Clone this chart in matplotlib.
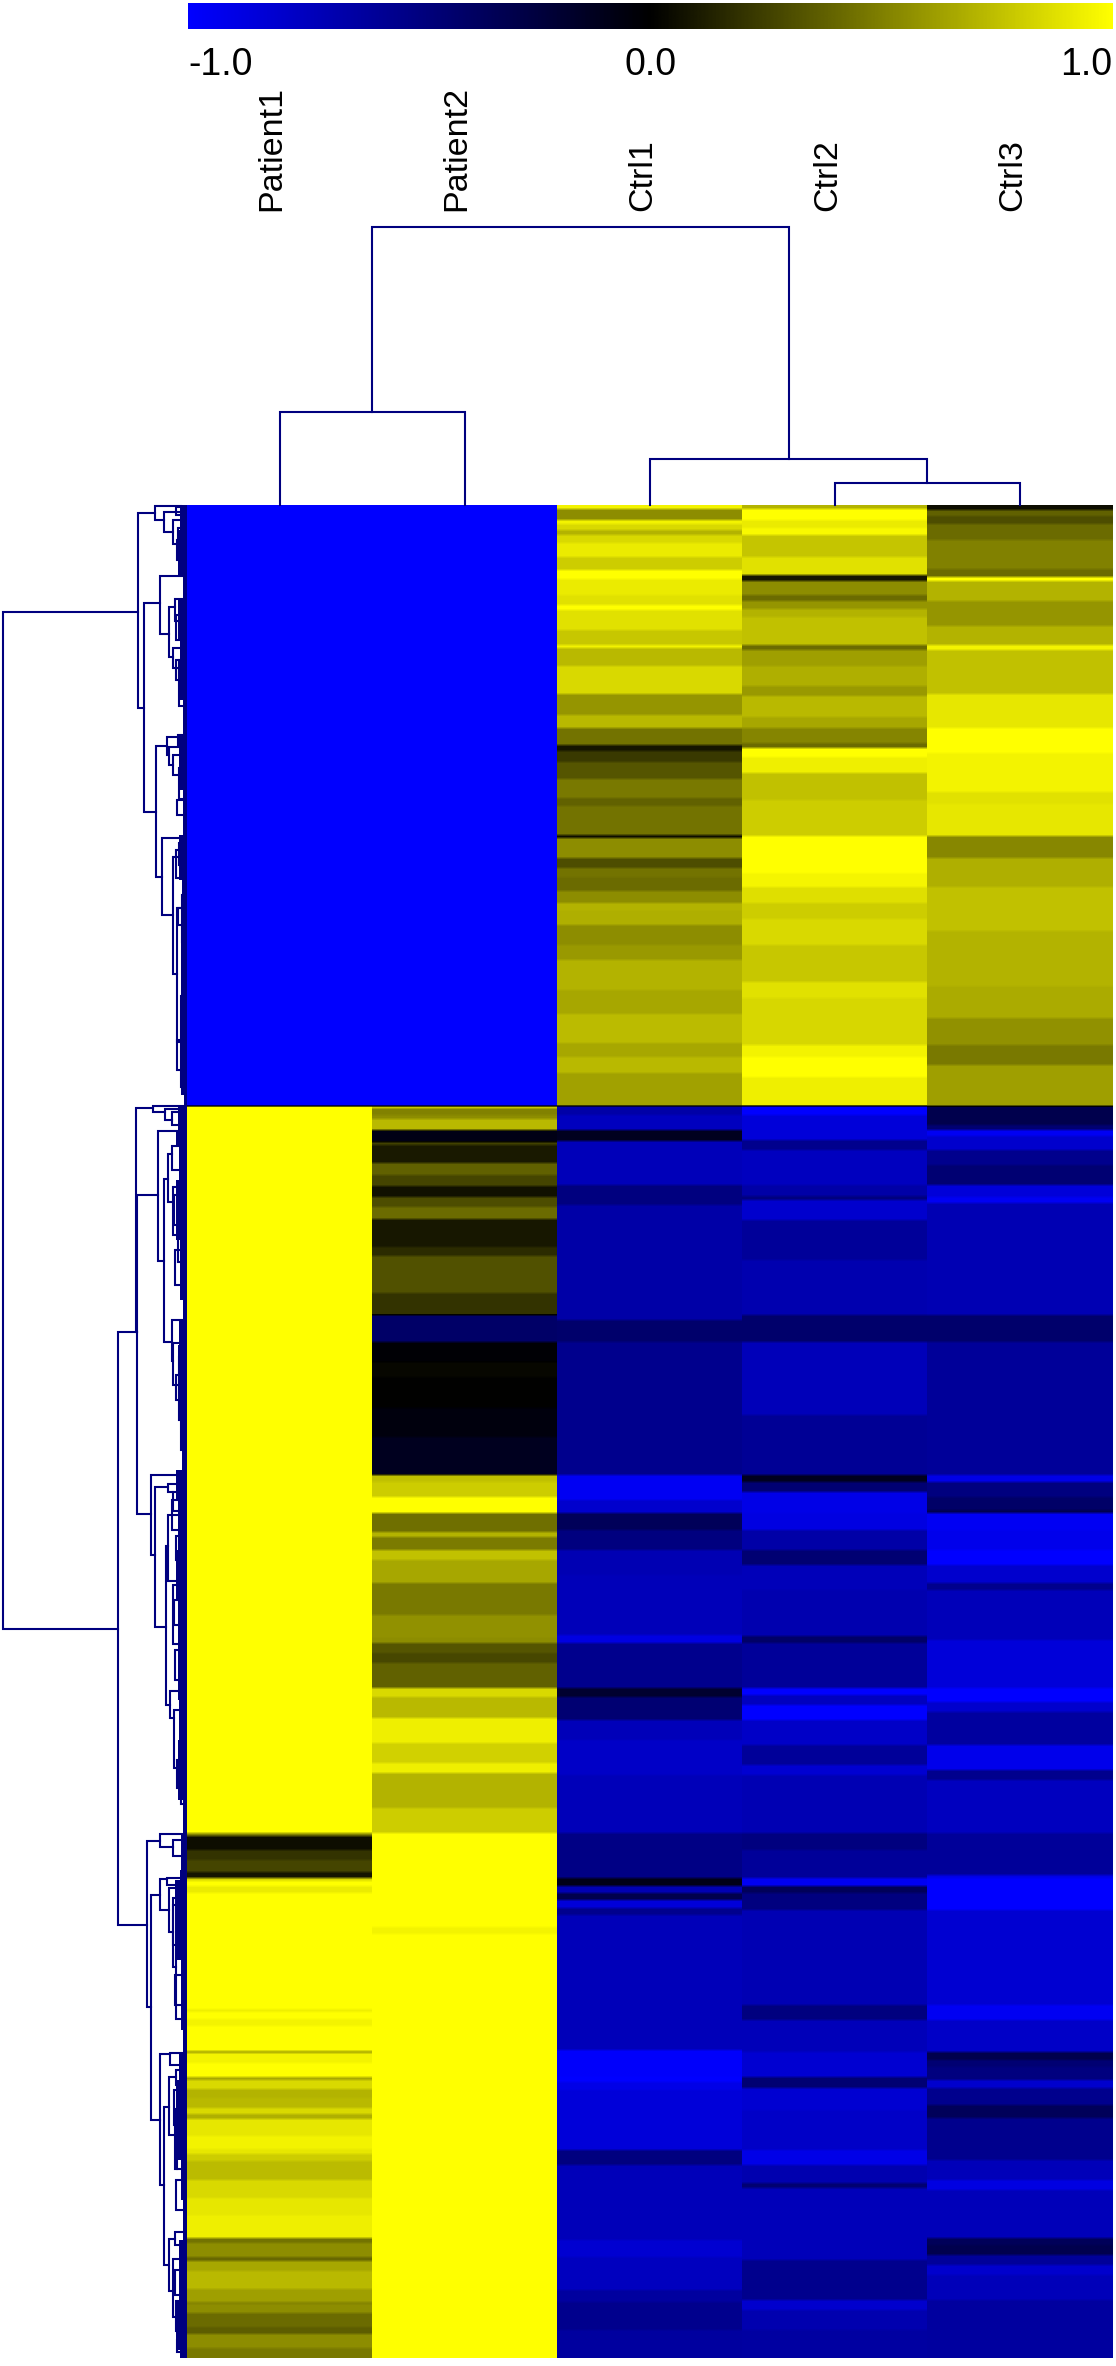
import numpy as np
import matplotlib
matplotlib.use('Agg')
import matplotlib.pyplot as plt
from matplotlib.colors import LinearSegmentedColormap

# SAMPLES AND COLOUR SCALE
samples = ['Patient1', 'Patient2', 'Ctrl1', 'Ctrl2', 'Ctrl3']
scale_ticks = ['-1.0', '0.0', '1.0']
scale_colors = ['#0000ff', '#000000', '#ffff00']

# ROWS OF THE HEATMAP, numbered as they sit on the page
first_row = 505
last_row = 2358

# BANDS OF EACH COLUMN: (row where the band ends, value)
patient1_bands = [
    (1106, -1), (1833, 1), (1836, 0.5), (1850, 0.05), (1860, 0.2), (1872, 0.27), (1878, 0.08),
    (1881, 0.85), (1886, 1), (1893, 0.92), (2009, 1), (2012, 0.93), (2019, 1), (2026, 0.95),
    (2051, 1), (2053, 0.6), (2063, 0.95), (2077, 1), (2080, 0.65), (2089, 0.85), (2098, 0.7),
    (2108, 0.72), (2114, 0.85), (2119, 0.68), (2136, 0.9), (2149, 0.95), (2154, 0.9), (2161, 0.8),
    (2180, 0.73), (2198, 0.85), (2215, 0.9), (2238, 0.93), (2243, 0.45), (2257, 0.55), (2261, 0.4),
    (2271, 0.65), (2289, 0.72), (2302, 0.62), (2304, 0.5), (2313, 0.55), (2327, 0.42), (2334, 0.36),
    (2348, 0.55), (2358, 0.47),
]
patient2_bands = [
    (1106, -1), (1108, 0.9), (1115, 0.5), (1119, 0.55), (1130, 0.72), (1142, -0.08), (1145, 0.25),
    (1163, 0.1), (1175, 0.38), (1186, 0.27), (1197, 0.07), (1207, 0.3), (1219, 0.42), (1247, 0.09),
    (1256, 0.17), (1293, 0.32), (1315, 0.2), (1342, -0.4), (1362, -0.02), (1377, 0.03), (1408, 0.0),
    (1437, -0.05), (1475, -0.12), (1482, 0.75), (1497, 0.8), (1513, 1), (1532, 0.43), (1537, 0.7),
    (1550, 0.48), (1560, 0.75), (1583, 0.65), (1615, 0.47), (1637, 0.57), (1643, 0.55), (1653, 0.33),
    (1663, 0.28), (1688, 0.38), (1697, 0.85), (1718, 0.72), (1743, 0.93), (1763, 0.82), (1773, 0.93),
    (1787, 0.7), (1808, 0.7), (1833, 0.8), (1927, 1), (1934, 0.95), (2358, 1),
]
ctrl1_bands = [
    (509, 0.95), (520, 0.55), (524, 0.95), (530, 0.85), (535, 0.7), (543, 0.85), (557, 0.92),
    (570, 0.8), (579, 1), (595, 0.92), (605, 0.88), (610, 1), (630, 0.88), (645, 0.78), (648, 0.95),
    (666, 0.72), (694, 0.85), (715, 0.58), (728, 0.72), (745, 0.45), (751, 0.08), (762, 0.22),
    (779, 0.33), (798, 0.47), (806, 0.38), (835, 0.45), (838, 0.05), (858, 0.55), (868, 0.3),
    (877, 0.45), (891, 0.42), (903, 0.55), (911, 0.7), (925, 0.68), (945, 0.55), (960, 0.6),
    (990, 0.7), (1014, 0.65), (1043, 0.73), (1057, 0.65), (1073, 0.72), (1106, 0.63),
    (1115, -0.65), (1130, -0.75), (1141, -0.12), (1185, -0.72), (1205, -0.5), (1320, -0.65),
    (1342, -0.42), (1475, -0.55), (1500, -0.95), (1513, -0.8), (1530, -0.35), (1550, -0.5),
    (1575, -0.7), (1635, -0.72), (1643, -0.88), (1688, -0.55), (1697, -0.18), (1720, -0.45),
    (1740, -0.72), (1775, -0.78), (1833, -0.72), (1878, -0.52), (1886, -0.1), (1893, -0.7),
    (1900, -0.3), (1908, -0.85), (1915, -0.55), (2050, -0.72), (2077, -0.98), (2082, -1),
    (2090, -0.9), (2150, -0.85), (2165, -0.5), (2240, -0.72), (2257, -0.82), (2290, -0.75),
    (2302, -0.62), (2330, -0.55), (2358, -0.62),
]
ctrl2_bands = [
    (509, 0.7), (520, 1), (528, 0.92), (535, 0.97), (557, 0.77), (575, 0.88), (581, 0.08),
    (595, 0.55), (601, 0.42), (609, 0.58), (617, 0.7), (645, 0.75), (650, 0.42), (666, 0.62),
    (686, 0.68), (696, 0.6), (717, 0.72), (728, 0.65), (743, 0.52), (748, 0.42), (757, 1),
    (773, 0.93), (800, 0.75), (836, 0.8), (873, 1), (887, 0.96), (903, 0.87), (919, 0.8),
    (945, 0.85), (982, 0.78), (998, 0.88), (1045, 0.84), (1057, 0.95), (1077, 1), (1106, 0.93),
    (1115, -1), (1140, -0.85), (1150, -0.55), (1185, -0.75), (1196, -0.65), (1200, -0.5),
    (1220, -0.8), (1260, -0.6), (1315, -0.68), (1342, -0.42), (1415, -0.72), (1475, -0.58),
    (1482, -0.12), (1492, -0.45), (1513, -0.9), (1530, -0.88), (1550, -0.65), (1565, -0.45),
    (1590, -0.72), (1636, -0.68), (1643, -0.4), (1688, -0.6), (1695, -1), (1705, -0.75),
    (1720, -1), (1745, -0.78), (1765, -0.6), (1775, -0.82), (1833, -0.7), (1850, -0.5),
    (1878, -0.6), (1886, -0.95), (1893, -0.35), (1910, -0.5), (2005, -0.7), (2020, -0.5),
    (2052, -0.72), (2077, -0.82), (2088, -0.45), (2110, -0.82), (2150, -0.78), (2165, -0.9),
    (2183, -0.68), (2188, -0.45), (2260, -0.72), (2300, -0.55), (2310, -0.8), (2330, -0.68),
    (2358, -0.63),
]
ctrl3_bands = [
    (510, 0.05), (516, 0.38), (524, 0.3), (540, 0.42), (569, 0.5), (577, 0.42), (581, 1),
    (601, 0.7), (626, 0.58), (645, 0.7), (650, 0.95), (694, 0.75), (728, 0.9), (753, 1),
    (792, 0.95), (804, 0.88), (836, 0.9), (858, 0.53), (887, 0.68), (931, 0.75), (986, 0.7),
    (1018, 0.67), (1045, 0.57), (1065, 0.47), (1106, 0.62),
    (1125, -0.3), (1130, -0.45), (1136, -0.95), (1150, -0.8), (1165, -0.55), (1185, -0.45),
    (1197, -0.85), (1203, -0.95), (1315, -0.7), (1342, -0.42), (1475, -0.6), (1482, -0.9),
    (1497, -0.5), (1510, -0.4), (1513, -0.3), (1530, -0.95), (1550, -0.92), (1565, -1),
    (1583, -0.8), (1590, -0.55), (1640, -0.72), (1688, -0.85), (1702, -1), (1712, -0.8),
    (1745, -0.62), (1770, -0.92), (1780, -0.55), (1833, -0.75), (1875, -0.6), (1878, -0.9),
    (1910, -1), (2005, -0.82), (2020, -0.95), (2052, -0.78), (2060, -0.3), (2067, -0.45),
    (2080, -0.5), (2088, -0.8), (2105, -0.55), (2118, -0.35), (2160, -0.55), (2180, -0.72),
    (2190, -0.88), (2238, -0.72), (2245, -0.35), (2255, -0.3), (2265, -0.6), (2275, -0.8),
    (2300, -0.72), (2358, -0.62),
]

# SAMPLE TREE: (merge height, left leaf position, right leaf position, left height, right height)
top_merges = [
    (1.0, 1.0, 3.25, 0.335, 0.165),
    (0.335, 0.5, 1.5, 0, 0),
    (0.165, 2.5, 4.0, 0, 0.08),
    (0.08, 3.5, 4.5, 0, 0),
]

# ROW TREE: (merge position, upper row, lower row, upper child position, lower child position)
left_merges = [
    (3, 612, 1629, 138, 118),
    (138, 513, 708, 155, 144), (155, 506, 520, 181, 164), (164, 512, 532, 181, 173),
    (173, 520, 544, 180, 178), (178, 528, 558, 182, 182), (182, 548, 571, 185, 185),
    (144, 603, 812, 160, 156), (160, 576, 634, 183, 169), (169, 607, 657, 175, 173),
    (175, 599, 621, 183, 181), (173, 648, 668, 183, 179), (179, 660, 706, 185, 183),
    (156, 746, 877, 167, 162), (167, 737, 755, 180, 169), (169, 747, 765, 180, 173),
    (173, 755, 775, 180, 179), (179, 768, 799, 185, 183), (162, 838, 915, 183, 173),
    (173, 857, 974, 179, 177), (179, 843, 865, 185, 182), (177, 908, 1042, 182, 181),
    (182, 895, 942, 185, 185), (181, 996, 1087, 185, 185),
    (118, 1332, 1925, 137, 147), (136, 1108, 1332, 153, 137), (137, 1195, 1514, 158, 151),
    (153, 1106, 1112, 183, 165), (165, 1109, 1120, 183, 172), (172, 1112, 1125, 183, 178),
    (158, 1131, 1261, 183, 164), (164, 1179, 1342, 168, 172), (168, 1154, 1202, 172, 173),
    (172, 1146, 1170, 183, 183), (173, 1187, 1235, 180, 178), (178, 1200, 1262, 184, 184),
    (172, 1320, 1361, 183, 173), (173, 1343, 1385, 184, 179), (179, 1357, 1420, 184, 181),
    (181, 1420, 1450, 185, 185), (151, 1475, 1555, 183, 155), (155, 1487, 1627, 168, 166),
    (168, 1484, 1492, 183, 173), (173, 1492, 1511, 183, 183), (166, 1546, 1705, 168, 170),
    (168, 1515, 1581, 183, 176), (176, 1536, 1560, 183, 183), (173, 1585, 1644, 183, 180),
    (170, 1691, 1718, 183, 174), (174, 1710, 1768, 183, 177), (177, 1760, 1788, 183, 181),
    (181, 1776, 1804, 185, 185), (147, 1841, 2007, 160, 151), (160, 1834, 1847, 183, 173),
    (173, 1840, 1856, 183, 183), (151, 1895, 2120, 160, 160), (160, 1879, 1910, 167, 169),
    (167, 1878, 1885, 183, 183), (169, 1888, 1932, 183, 173), (173, 1898, 1967, 183, 176),
    (176, 1950, 2019, 183, 183), (160, 2054, 2185, 170, 164), (170, 2053, 2065, 183, 183),
    (164, 2107, 2265, 169, 169), (169, 2077, 2135, 176, 175), (176, 2070, 2085, 183, 183),
    (175, 2109, 2169, 183, 177), (177, 2153, 2169, 183, 183), (169, 2239, 2291, 175, 173),
    (175, 2232, 2245, 183, 183), (173, 2259, 2317, 183, 176), (176, 2301, 2331, 183, 179),
    (179, 2323, 2343, 185, 185),
    # small boxes in the busy parts of the tree
    (176, 507, 515, 183, 180), (177, 540, 560, 184, 181), (176, 615, 640, 184, 180),
    (176, 660, 680, 184, 181), (178, 735, 745, 184, 181), (177, 800, 815, 184, 182),
    (176, 850, 878, 184, 181), (178, 908, 925, 182, 182), (177, 1040, 1070, 184, 182),
    (174, 1195, 1225, 180, 180), (175, 1250, 1285, 181, 181), (176, 1375, 1400, 181, 181),
    (172, 1500, 1530, 178, 178), (174, 1600, 1625, 180, 180), (175, 1650, 1680, 180, 180),
    (173, 1905, 1945, 178, 178), (175, 1975, 2005, 181, 181), (174, 2090, 2125, 180, 180),
    (176, 2180, 2210, 182, 182), (175, 2270, 2295, 180, 180), (177, 2340, 2352, 182, 182),
]

# TIGHT LEAF BRANCHES NEXT TO THE HEATMAP: (row where the clump ends, position of its left edge)
leaf_clumps = [
    (530, 180), (575, 178), (600, 183), (640, 178), (700, 180), (735, 183), (790, 179), (835, 183),
    (880, 179), (920, 182), (1000, 181), (1040, 182), (1095, 181), (1105, 184), (1130, 178),
    (1145, 176), (1180, 179), (1240, 176), (1300, 180), (1320, 183), (1345, 179), (1420, 178),
    (1470, 182), (1500, 176), (1550, 178), (1600, 176), (1700, 178), (1740, 179), (1800, 178),
    (1835, 183), (1870, 181), (1880, 180), (1960, 175), (2030, 181), (2054, 183), (2080, 179),
    (2160, 176), (2200, 181), (2240, 183), (2300, 179), (2350, 176), (2358, 180),
]

# PAGE LAYOUT IN PIXELS
W, H = 1116, 2366
HEAT_LEFT, HEAT_RIGHT = 187, 1112.5
NAVY = '#00007f'


def page_axes(x0, y0, x1, y1):
    ax = fig.add_axes([x0 / W, 1 - y1 / H, (x1 - x0) / W, (y1 - y0) / H])
    ax.axis('off')
    return ax


plt.rcParams['font.family'] = ['Liberation Sans', 'DejaVu Sans']
fig = plt.figure(figsize=(W / 100, H / 100), dpi=100)
cmap = LinearSegmentedColormap.from_list('byy', scale_colors)

# HEATMAP
all_bands = [patient1_bands, patient2_bands, ctrl1_bands, ctrl2_bands, ctrl3_bands]
matrix = np.zeros((last_row - first_row, len(samples)))
for c, bands in enumerate(all_bands):
    start = first_row
    for end, value in bands:
        matrix[start - first_row:end - first_row, c] = value
        start = end

# the scan of the original is soft, so soften the band edges along the rows a little
for c in range(matrix.shape[1]):
    padded = np.pad(matrix[:, c], 1, mode='edge')
    matrix[:, c] = np.convolve(padded, np.ones(3) / 3, mode='valid')

ax_heat = page_axes(HEAT_LEFT, first_row, HEAT_RIGHT, last_row)
ax_heat.imshow(matrix, cmap=cmap, vmin=-1, vmax=1, aspect='auto', interpolation='nearest',
               extent=[0, len(samples), last_row, first_row])

# COLOUR KEY
ax_key = page_axes(188, 2.5, HEAT_RIGHT, 29.5)
ax_key.imshow(np.linspace(-1, 1, 512)[None, :], cmap=cmap, aspect='auto')

ax_ticks = page_axes(188, 30, HEAT_RIGHT, 90)
ax_ticks.set_xlim(-1, 1)
ax_ticks.set_ylim(0, 1)
aligns = ['left', 'center', 'right']
for tick, pos, ha in zip(scale_ticks, [-1, 0, 1], aligns):
    ax_ticks.text(pos, 0.42, tick, ha=ha, va='center', fontsize=27, color='black')

# SAMPLE TREE AND LABELS
ax_top = page_axes(HEAT_LEFT, 227, HEAT_RIGHT, first_row)
ax_top.set_xlim(0, len(samples))
ax_top.set_ylim(0, 1)
for height, left, right, h_left, h_right in top_merges:
    ax_top.plot([left, left, right, right], [h_left, height, height, h_right],
                color=NAVY, lw=1.5, clip_on=False, solid_joinstyle='miter')

ax_names = page_axes(HEAT_LEFT, 80, HEAT_RIGHT, 211)
ax_names.set_xlim(0, len(samples))
ax_names.set_ylim(0, 1)
for i, name in enumerate(samples):
    ax_names.text(i + 0.46, 0, name, rotation=90, ha='center', va='bottom', fontsize=24.5, color='black')

# ROW TREE
ax_left = page_axes(0, first_row, HEAT_LEFT, last_row)
ax_left.set_xlim(0, HEAT_LEFT)
ax_left.set_ylim(last_row, first_row)
for pos, upper, lower, pos_upper, pos_lower in left_merges:
    ax_left.plot([pos_upper, pos, pos, pos_lower], [upper, upper, lower, lower],
                 color=NAVY, lw=1.5, clip_on=False, solid_joinstyle='miter')

start = first_row
for end, edge in leaf_clumps:
    ax_left.fill_betweenx([start, end], edge, HEAT_LEFT, color=NAVY, lw=0)
    start = end

fig.savefig('out.png', dpi=100, facecolor='white')
